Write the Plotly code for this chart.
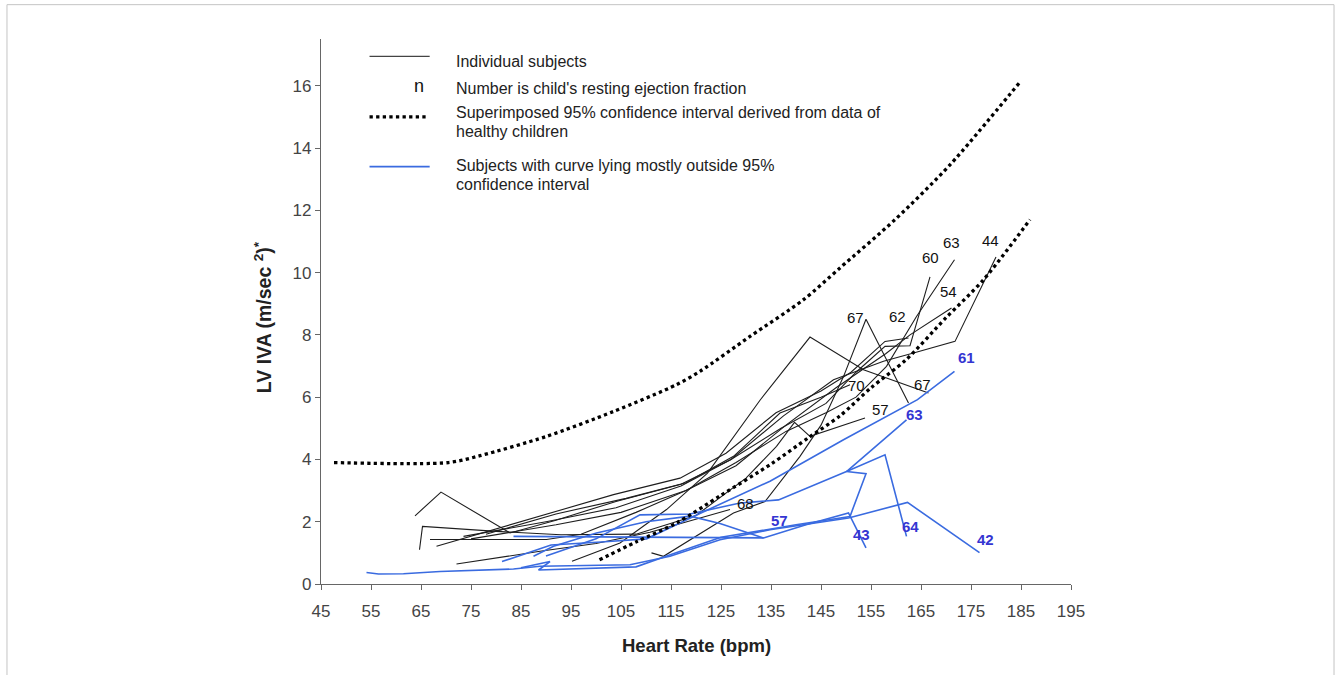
import plotly.graph_objects as go

# ---- 95% confidence band from healthy children (heart rate, LV IVA) ----
ci_upper_hr = [47.6, 70.5, 76.8, 90.1, 103.5, 116.1, 120.8, 130.8, 141.5, 148.8, 159.8, 170.8, 184.7]
ci_upper_iva = [3.9, 3.9, 4.12, 4.74, 5.54, 6.4, 6.83, 7.95, 9.13, 10.15, 11.7, 13.46, 16.1]
ci_lower_hr = [100.7, 108, 116.1, 125, 135, 142.5, 148.8, 155, 162, 170, 177.5, 186.8]
ci_lower_iva = [0.78, 1.35, 1.96, 2.85, 3.85, 4.7, 5.4, 6.3, 7.2, 8.55, 9.77, 11.7]

# ---- individual subjects (black), named by resting ejection fraction ----
hr_k44 = [63.8, 69.0, 82.8, 92, 104, 117, 127, 137.5, 147.5, 157.5, 163.5, 171.8, 180]
iva_k44 = [2.19, 2.95, 1.64, 2.05, 2.65, 3.2, 4.0, 5.4, 6.56, 7.15, 7.42, 7.79, 10.5]
hr_k57 = [64.7, 65.3, 80.1, 93, 108, 120, 130, 136.1, 139.7, 142.8, 153.8]
iva_k57 = [1.10, 1.85, 1.69, 1.58, 1.6, 2.2, 3.4, 4.42, 5.19, 4.74, 5.33]
hr_k54 = [66.8, 90.1, 97, 108, 118, 128, 138, 148, 158, 162.8, 171.1]
iva_k54 = [1.43, 1.43, 1.6, 2.3, 3.0, 3.8, 5.1, 6.3, 7.4, 8.0, 8.86]
hr_k62 = [68.1, 88.8, 103.5, 116.8, 126, 136, 145, 151, 157.8, 162.5]
iva_k62 = [1.21, 2.17, 2.87, 3.4, 4.2, 5.5, 6.2, 6.8, 7.79, 7.9]
hr_k60 = [73.5, 90, 104, 117, 127, 137, 146, 152, 157.8, 162.8, 166.8]
iva_k60 = [1.53, 2.0, 2.45, 3.15, 4.0, 5.0, 5.8, 6.8, 7.63, 7.65, 9.86]
hr_k63 = [75, 92, 105, 118, 128, 138, 146, 152, 158.1, 164.1, 171.7]
iva_k63 = [1.45, 1.9, 2.3, 3.0, 3.9, 4.9, 5.5, 6.0, 6.99, 8.59, 10.41]
hr_k67b = [95.2, 104.8, 114.1, 122.3, 132.8, 142.8, 153.5, 166.5]
iva_k67b = [0.73, 1.32, 2.39, 3.56, 5.9, 7.93, 6.88, 6.13]
hr_k67a = [111.1, 113.5, 127.5, 133.8, 140.8, 145, 149.5, 154, 162.5]
iva_k67a = [1.0, 0.89, 2.28, 2.65, 4.1, 5.1, 6.66, 8.5, 5.81]
hr_k68 = [72.1, 88.8, 100, 110.8, 126.8]
iva_k68 = [0.64, 1.05, 1.3, 1.66, 2.39]
hr_k70 = [78, 92, 106, 118, 127.5, 136.8, 145, 150.8]
iva_k70 = [1.6, 2.25, 2.75, 3.25, 4.1, 5.49, 6.0, 6.4]

# ---- subjects lying mostly outside the 95% interval (blue) ----
hr_b42 = [54.1, 56.5, 61.5, 68.8, 83.5, 88.8, 106.8, 114.8, 124.8, 134.8, 150.5, 162.3, 176.7]
iva_b42 = [0.37, 0.32, 0.33, 0.40, 0.48, 0.57, 0.62, 0.89, 1.42, 1.74, 2.12, 2.62, 1.01]
hr_b61 = [81.2, 91, 101, 110.1, 119.5, 134.8, 149.5, 164.3, 171.7]
iva_b61 = [0.72, 1.25, 1.35, 1.45, 2.17, 3.3, 4.63, 5.92, 6.83]
hr_b63 = [85, 90.8, 88.5, 100, 108, 115, 125, 140, 150.8, 154, 150.1, 162.1]
iva_b63 = [0.52, 0.72, 0.45, 0.52, 0.55, 0.95, 1.5, 1.9, 2.17, 3.54, 3.61, 5.27]
hr_b64 = [90, 100, 108.8, 118.8, 128.8, 136.5, 150.1, 157.8, 162.1]
iva_b64 = [0.9, 1.45, 2.22, 2.25, 2.6, 2.7, 3.61, 4.15, 1.53]
hr_b57 = [87.5, 91.5, 100.1, 110, 118.8, 124.8, 133.5]
iva_b57 = [0.89, 1.21, 1.64, 2.0, 2.18, 1.94, 1.48]
hr_b43 = [83.5, 110, 133.5, 142, 150.5, 154]
iva_b43 = [1.53, 1.5, 1.48, 1.9, 2.28, 1.16]

# ejection-fraction labels placed beside the curve ends
black_ef_text = ["67", "62", "60", "63", "44", "54", "70", "67", "57", "68"]
black_ef_hr = [151.8, 160.3, 166.9, 171.1, 178.9, 170.5, 152.1, 165.3, 156.8, 129.8]
black_ef_iva = [8.56, 8.59, 10.47, 10.97, 11.03, 9.39, 6.37, 6.40, 5.6, 2.6]
blue_ef_text = ["61", "63", "57", "43", "64", "42"]
blue_ef_hr = [174.0, 163.6, 136.7, 153.0, 162.9, 177.8]
blue_ef_iva = [7.26, 5.43, 2.04, 1.6, 1.85, 1.44]

x_ticks = list(range(45, 196, 10))
y_ticks = list(range(0, 17, 2))

BLACK = "#1e1e1e"
BLUE = "#3a6be0"
LABEL_BLUE = "#3535d2"
FONT = "Liberation Sans, Arial, sans-serif"

fig = go.Figure()

black_series = [
    (hr_k44, iva_k44), (hr_k57, iva_k57), (hr_k54, iva_k54), (hr_k62, iva_k62),
    (hr_k60, iva_k60), (hr_k63, iva_k63), (hr_k67b, iva_k67b), (hr_k67a, iva_k67a),
    (hr_k68, iva_k68), (hr_k70, iva_k70),
]
blue_series = [
    (hr_b42, iva_b42), (hr_b61, iva_b61), (hr_b63, iva_b63),
    (hr_b64, iva_b64), (hr_b57, iva_b57), (hr_b43, iva_b43),
]

for hr, iva in black_series:
    fig.add_trace(go.Scatter(x=hr, y=iva, mode="lines",
                             line=dict(color=BLACK, width=1.1), hoverinfo="skip"))
for hr, iva in blue_series:
    fig.add_trace(go.Scatter(x=hr, y=iva, mode="lines",
                             line=dict(color=BLUE, width=1.6), hoverinfo="skip"))

for hr, iva in [(ci_upper_hr, ci_upper_iva), (ci_lower_hr, ci_lower_iva)]:
    fig.add_trace(go.Scatter(x=hr, y=iva, mode="lines",
                             line=dict(color="#000000", width=3.3, dash="dot",
                                       shape="spline", smoothing=0.8),
                             hoverinfo="skip"))

annotations = []
for t, x, y in zip(black_ef_text, black_ef_hr, black_ef_iva):
    annotations.append(dict(x=x, y=y, text=t, showarrow=False,
                            font=dict(family=FONT, size=15, color="#111111")))
for t, x, y in zip(blue_ef_text, blue_ef_hr, blue_ef_iva):
    annotations.append(dict(x=x, y=y, text="<b>" + t + "</b>", showarrow=False,
                            font=dict(family=FONT, size=15, color=LABEL_BLUE)))

# key drawn inside the plot, top-left
legend_font = dict(family=FONT, size=16, color="#222222")
key_rows = [
    ("Individual subjects", 0.958),
    ("Number is child's resting ejection fraction", 0.909),
    ("Superimposed 95% confidence interval derived from data of", 0.866),
    ("healthy children", 0.830),
    ("Subjects with curve lying mostly outside 95%", 0.768),
    ("confidence interval", 0.733),
]
for text, yp in key_rows:
    annotations.append(dict(xref="paper", yref="paper", x=0.177, y=yp, text=text,
                            xanchor="left", yanchor="middle", showarrow=False,
                            font=legend_font))
annotations.append(dict(xref="paper", yref="paper", x=0.1313, y=0.913, text="n",
                        showarrow=False, xanchor="center", yanchor="middle",
                        font=dict(family=FONT, size=18, color="#111111")))

# axis titles
annotations.append(dict(xref="paper", yref="paper", x=0.5, y=-0.113,
                        text="<b>Heart Rate (bpm)</b>", showarrow=False,
                        xanchor="center", yanchor="middle",
                        font=dict(family=FONT, size=18.5, color="#222222")))
annotations.append(dict(xref="paper", yref="paper", x=-0.077, y=0.49,
                        text="<b>LV IVA (m/sec <sup>2</sup>)<sup>*</sup></b>",
                        showarrow=False, textangle=-90,
                        xanchor="center", yanchor="middle",
                        font=dict(family=FONT, size=19.5, color="#222222")))

shapes = [
    dict(type="line", xref="paper", yref="paper", x0=0.0647, x1=0.1449,
         y0=0.968, y1=0.968, line=dict(color="#444444", width=1.3)),
    dict(type="line", xref="paper", yref="paper", x0=0.0647, x1=0.1400,
         y0=0.857, y1=0.857, line=dict(color="#000000", width=3.3, dash="dot")),
    dict(type="line", xref="paper", yref="paper", x0=0.0647, x1=0.1449,
         y0=0.766, y1=0.766, line=dict(color=BLUE, width=1.8)),
    # thin frame around the figure
    dict(type="rect", xref="paper", yref="paper", x0=-0.4187, x1=1.3507,
         y0=-0.4, y1=1.063, line=dict(color="#c4c4c4", width=1)),
]

fig.update_layout(
    width=1341, height=675,
    margin=dict(l=321, r=270, t=39, b=91),
    paper_bgcolor="white", plot_bgcolor="white",
    showlegend=False,
    font=dict(family=FONT),
    annotations=annotations,
    shapes=shapes,
    xaxis=dict(range=[45, 195], tickvals=x_ticks, ticktext=[str(v) for v in x_ticks],
               showgrid=False, zeroline=False, showline=True, linecolor="#666666",
               linewidth=1.3, ticks="outside", ticklen=5, tickcolor="#666666",
               ticklabelstandoff=6,
               tickfont=dict(family=FONT, size=17, color="#444444")),
    yaxis=dict(range=[0, 17.5], tickvals=y_ticks, ticktext=[str(v) for v in y_ticks],
               showgrid=False, zeroline=False, showline=True, linecolor="#666666",
               linewidth=1.3, ticks="outside", ticklen=5, tickcolor="#666666",
               tickfont=dict(family=FONT, size=17, color="#444444")),
)

fig.write_html("out.html")
